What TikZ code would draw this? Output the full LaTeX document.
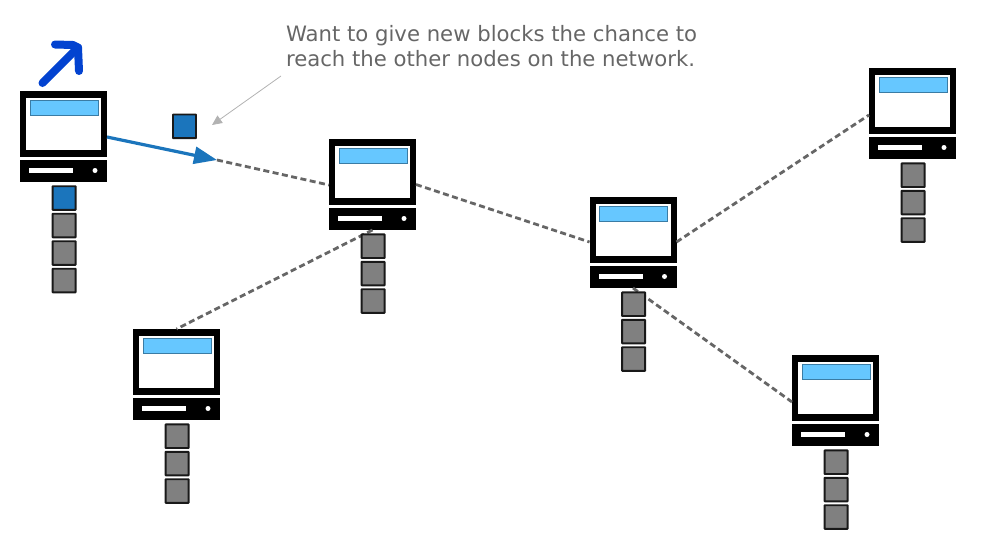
\documentclass[tikz,border=0pt]{standalone}
\usepackage{fontspec}
\setmainfont{DejaVu Sans}
\usetikzlibrary{arrows.meta,positioning}
\definecolor{blockblue}{HTML}{1B75BC}
\definecolor{screenblue}{HTML}{66C7FF}
\definecolor{barline}{HTML}{3A7CA5}
\definecolor{minerblue}{HTML}{0343D0}
\definecolor{labelgray}{HTML}{666666}
\tikzset{
  x=1pt,y=-1pt,
  box/.style={draw=none,inner sep=0pt,outer sep=0pt,anchor=north west},
  monitor/.style={box,fill=black,minimum width=87pt,minimum height=66pt},
  screen/.style={box,fill=white,minimum width=75pt,minimum height=52pt},
  bar/.style={box,fill=screenblue,draw=barline,line width=.7pt,minimum width=68pt,minimum height=15pt},
  basebox/.style={box,fill=black,minimum width=87pt,minimum height=22pt},
  slot/.style={box,fill=white,minimum width=44pt,minimum height=5pt},
  led/.style={circle,fill=white,inner sep=0pt,outer sep=0pt,minimum size=5pt},
  block/.style={draw=black!90,line width=1.9pt,rounded corners=.4pt,inner sep=0pt,outer sep=0pt,minimum width=23pt,minimum height=23.6pt,anchor=north west},
  grayblock/.style={block,fill=black!50},
  blueblock/.style={block,fill=blockblue},
  link/.style={draw=black!60,line width=2.8pt,dash pattern=on 6pt off 3.5pt},
  note/.style={inner sep=0pt,outer sep=0pt,anchor=north west,align=left,text=labelgray,font=\fontsize{21.2}{24.5}\selectfont},
  pointer/.style={draw=black!30,line width=.8pt,-{Triangle[length=10pt,width=9pt]}},
  sendarrow/.style={draw=blockblue,line width=3.2pt,-{Triangle[length=23pt,width=17pt]}},
  miner/.style={draw=minerblue,line width=8pt,line cap=round,line join=round}
}
\newcommand{\computer}[3]{%
  \node[monitor] (#1) at (#2,#3) {};
  \node[screen] (#1s) at (#2+6,#3+7) {};
  \node[bar] (#1b) at (#2+10,#3+9) {};
  \node[basebox] (#1base) at (#2,#3+69) {};
  \node[slot] (#1slot) at (#2+9,#3+77) {};
  \node[led] (#1led) at (#2+75,#3+79.5) {};
}
\newcommand{\chain}[3]{%
  \foreach \k/\d in {1/0,2/27.4,3/54.8}{
    \node[grayblock] (#1c\k) at (#2+32.6,#3+95.4+\d) {};
  }
}
\begin{document}
\begin{tikzpicture}
\useasboundingbox (0,0) rectangle (983,552);
\coordinate (tipend) at (217,160);
\computer{pa}{20}{91}
\computer{pb}{329}{139}
\computer{pc}{589.5}{197}
\computer{pd}{133}{329}
\computer{pe}{792}{355}
\computer{pf}{869}{68}
% dashed links
\draw[link] (tipend) -- ([yshift=-13pt]pb.west);
\draw[link] ([yshift=-12.5pt]pb.east) -- ([yshift=-12pt]pc.west);
\draw[link] ([yshift=-12pt]pc.east) -- ([yshift=-14pt]pf.west);
\draw[link] (pcbase.south) -- ([yshift=-14pt]pe.west);
\draw[link] (pbbase.south) -- (pd.north);
% blocks under each computer
\node[blueblock] (pac0) at (52.6,186.2) {};
\node[grayblock] (pac1) at (52.6,213.7) {};
\node[grayblock] (pac2) at (52.6,241.2) {};
\node[grayblock] (pac3) at (52.6,268.7) {};
\chain{pb}{329}{139}
\chain{pc}{589.5}{197}
\chain{pd}{133}{329}
\chain{pe}{792}{355}
\chain{pf}{869}{68}
\node[blueblock] (fresh) at (173,114.5) {};
% blue send arrow
\draw[sendarrow] ([yshift=-13pt]pa.east) -- (tipend);
% miner arrow
\coordinate (minerfoot) at (42.5,83);
\coordinate (minertip) at (78,47.5);
\coordinate (minerleft) at (55,44.5);
\coordinate (minerright) at (79,71);
\draw[miner] (minerfoot) -- (minertip);
\draw[miner] (minerleft) -- (73,45) -- (minertip) -- (minerright);
% note
\node[note] (notetext) at (286,25.5) {Want to give new blocks the chance to\\reach the other nodes on the network.};
\coordinate (pointerhead) at (212,125);
\coordinate (pointerfoot) at (281,76);
\draw[pointer] (pointerfoot) -- (pointerhead);
\end{tikzpicture}
\end{document}
